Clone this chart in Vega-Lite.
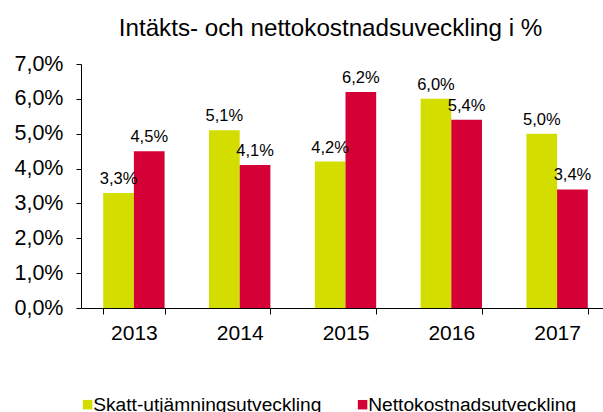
{
  "$schema": "https://vega.github.io/schema/vega-lite/v6.json",
  "autosize": {"type": "none"},
  "padding": {"left": 81, "top": 64, "right": 0, "bottom": 104},
  "width": 529,
  "height": 244,
  "title": {
    "text": "Intäkts- och nettokostnadsuveckling i %",
    "font": "Liberation Sans",
    "fontSize": 24.2,
    "fontWeight": "normal",
    "color": "#000000",
    "anchor": "middle",
    "baseline": "alphabetic",
    "dx": -15,
    "offset": -7
  },
  "config": {
    "locale": {"number": {"decimal": ",", "thousands": " ", "grouping": [3], "currency": ["", " kr"]}},
    "view": {"stroke": null},
    "font": "Liberation Sans"
  },
  "data": {
    "values": [
      {"year": "2013", "serie": "Skatt-utjämningsutveckling", "value": 0.033},
      {"year": "2013", "serie": "Nettokostnadsutveckling", "value": 0.045},
      {"year": "2014", "serie": "Skatt-utjämningsutveckling", "value": 0.051},
      {"year": "2014", "serie": "Nettokostnadsutveckling", "value": 0.041},
      {"year": "2015", "serie": "Skatt-utjämningsutveckling", "value": 0.042},
      {"year": "2015", "serie": "Nettokostnadsutveckling", "value": 0.062},
      {"year": "2016", "serie": "Skatt-utjämningsutveckling", "value": 0.060},
      {"year": "2016", "serie": "Nettokostnadsutveckling", "value": 0.054},
      {"year": "2017", "serie": "Skatt-utjämningsutveckling", "value": 0.050},
      {"year": "2017", "serie": "Nettokostnadsutveckling", "value": 0.034}
    ]
  },
  "encoding": {
    "x": {
      "field": "year", "type": "nominal", "title": null,
      "scale": {"paddingInner": 0.42, "paddingOuter": 0.21},
      "axis": {
        "labelAngle": 0, "labelFontSize": 21, "labelColor": "#000000",
        "domainColor": "#000000", "tickColor": "#000000", "tickSize": 6,
        "tickBand": "extent", "labelPadding": 8, "grid": false
      }
    },
    "xOffset": {"field": "serie", "type": "nominal", "sort": ["Skatt-utjämningsutveckling", "Nettokostnadsutveckling"], "scale": {"paddingInner": 0, "paddingOuter": 0}},
    "y": {
      "field": "value", "type": "quantitative", "title": null,
      "scale": {"domain": [0, 0.07], "nice": false},
      "axis": {
        "values": [0, 0.01, 0.02, 0.03, 0.04, 0.05, 0.06, 0.07],
        "format": ".1%", "labelFontSize": 21.5, "labelColor": "#000000",
        "domainColor": "#000000", "tickColor": "#000000", "tickSize": 5,
        "labelPadding": 13, "grid": false
      }
    }
  },
  "layer": [
    {
      "mark": {"type": "bar"},
      "encoding": {
        "color": {
          "field": "serie", "type": "nominal",
          "sort": ["Skatt-utjämningsutveckling", "Nettokostnadsutveckling"],
          "scale": {"domain": ["Skatt-utjämningsutveckling", "Nettokostnadsutveckling"], "range": ["#d3de00", "#d40036"]},
          "legend": {
            "title": null, "orient": "none", "direction": "horizontal",
            "legendX": -3, "legendY": 331,
            "symbolType": "square", "symbolSize": 90, "symbolStrokeWidth": 0,
            "labelFontSize": 19.2, "labelColor": "#000000", "labelOffset": -4,
            "columnPadding": 31, "labelLimit": 400
          }
        }
      }
    },
    {
      "mark": {"type": "text", "baseline": "bottom", "dy": -6, "fontSize": 16.5, "color": "#000000"},
      "encoding": {
        "text": {"field": "value", "type": "quantitative", "format": ".1%"}
      }
    }
  ]
}
